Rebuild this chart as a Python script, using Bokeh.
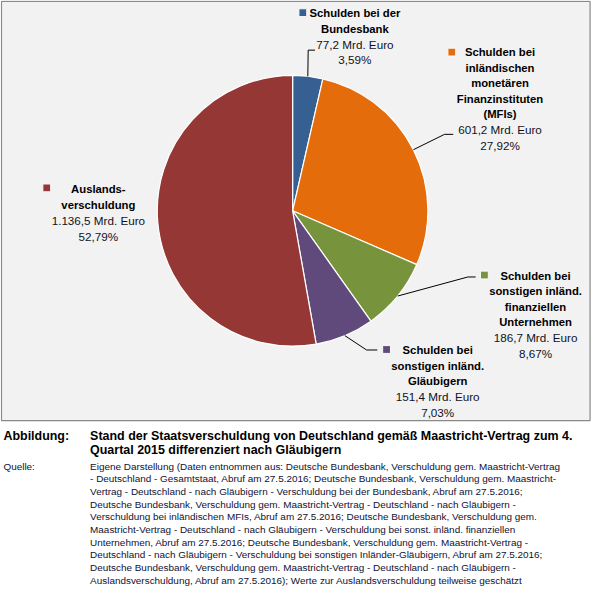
import math
from bokeh.plotting import figure
from bokeh.models import ColumnDataSource, Range1d
from bokeh.core.properties import value
from bokeh.embed import file_html
from bokeh.resources import INLINE

# ---------------- data ----------------
categories = [
    "Schulden bei der Bundesbank",
    "Schulden bei inländischen monetären Finanzinstituten (MFIs)",
    "Schulden bei sonstigen inländ. finanziellen Unternehmen",
    "Schulden bei sonstigen inländ. Gläubigern",
    "Auslandsverschuldung",
]
name_lines = [
    ["Schulden bei der", "Bundesbank"],
    ["Schulden bei", "inländischen", "monetären", "Finanzinstituten", "(MFIs)"],
    ["Schulden bei", "sonstigen inländ.", "finanziellen", "Unternehmen"],
    ["Schulden bei", "sonstigen inländ.", "Gläubigern"],
    ["Auslands-", "verschuldung"],
]
values_bn = [77.2, 601.2, 186.7, 151.4, 1136.5]
value_labels = ["77,2 Mrd. Euro", "601,2 Mrd. Euro", "186,7 Mrd. Euro",
                "151,4 Mrd. Euro", "1.136,5 Mrd. Euro"]
percent_labels = ["3,59%", "27,92%", "8,67%", "7,03%", "52,79%"]
colors = ["#376092", "#E46C0A", "#77933C", "#604A7B", "#953735"]

caption_label = "Abbildung:"
caption_lines = [
    "Stand der Staatsverschuldung von Deutschland gemäß Maastricht-Vertrag zum 4.",
    "Quartal 2015 differenziert nach Gläubigern",
]
source_label = "Quelle:"
source_lines = [
    "Eigene Darstellung (Daten entnommen aus: Deutsche Bundesbank, Verschuldung gem. Maastricht-Vertrag",
    "- Deutschland - Gesamtstaat, Abruf am 27.5.2016;  Deutsche Bundesbank, Verschuldung gem. Maastricht-",
    "Vertrag - Deutschland - nach Gläubigern - Verschuldung bei der Bundesbank, Abruf am 27.5.2016;",
    "Deutsche Bundesbank, Verschuldung gem. Maastricht-Vertrag - Deutschland - nach Gläubigern -",
    "Verschuldung bei inländischen MFIs, Abruf am 27.5.2016;  Deutsche Bundesbank, Verschuldung gem.",
    "Maastricht-Vertrag - Deutschland - nach Gläubigern - Verschuldung bei sonst. inländ. finanziellen",
    "Unternehmen, Abruf am 27.5.2016;  Deutsche Bundesbank, Verschuldung gem. Maastricht-Vertrag -",
    "Deutschland - nach Gläubigern - Verschuldung bei sonstigen Inländer-Gläubigern, Abruf am 27.5.2016;",
    "Deutsche Bundesbank, Verschuldung gem. Maastricht-Vertrag - Deutschland - nach Gläubigern -",
    "Auslandsverschuldung, Abruf am 27.5.2016);  Werte zur Auslandsverschuldung teilweise geschätzt",
]

# ---------------- layout (reference pixel space, y downwards) ----------------
W_REF, H_REF = 608, 604
W, H = 592, 588
S = W / W_REF


def Y(y):
    return H_REF - y


def fs(px):
    return f"{px * S:.2f}px"


FONT = "Liberation Sans"
CX, CY, R = 300, 216, 139

# label block: center x, first line y, marker x, marker y, leader elbow points
label_cx = [364, 513, 549.5, 449, 100.5]
label_y0 = [13, 53, 282.5, 359, 194]
marker_xy = [(310.5, 12.5), (463.5, 53), (497, 282), (396.5, 358.5), (47.5, 192.5)]
leader_pts = [
    [(316, 51), (323, 51)],
    [(456, 137.5), (465, 137.5)],
    [(480, 284), (488, 284)],
    [(376, 359), (387, 359)],
    None,
]
LINE_H = 16

p = figure(width=W, height=H, output_backend="svg", toolbar_location=None,
           x_range=Range1d(0, W_REF), y_range=Range1d(0, H_REF),
           min_border=0, outline_line_color=None, background_fill_color="white",
           border_fill_color="white")
p.axis.visible = False
p.grid.visible = False

# chart box
p.quad(left=[1], right=[605.5], top=[Y(1)], bottom=[Y(431.5)],
       fill_color="#F2F2F2", line_color="#898989", line_width=1.2)

# pie
total = sum(values_bn)
starts, ends, mids = [], [], []
cum = 0.0
for v in values_bn:
    a0 = math.pi / 2 - 2 * math.pi * cum / total
    cum += v
    a1 = math.pi / 2 - 2 * math.pi * cum / total
    starts.append(a0)
    ends.append(a1)
    mids.append((a0 + a1) / 2)

src = ColumnDataSource(dict(x=[CX] * len(values_bn), y=[Y(CY)] * len(values_bn),
                            start=starts, end=ends, color=colors, cat=categories))
p.wedge(x="x", y="y", radius=R, start_angle="start", end_angle="end",
        direction="clock", fill_color="color", line_color="white",
        line_width=1.2, source=src)

# leader lines
for i, pts in enumerate(leader_pts):
    if pts is None:
        continue
    ex = CX + R * math.cos(mids[i])
    ey = Y(CY) + R * math.sin(mids[i])
    xs = [ex] + [q[0] for q in pts]
    ys = [ey] + [Y(q[1]) for q in pts]
    p.line(xs, ys, line_color="black", line_width=1)

# labels
for i in range(len(categories)):
    cx = label_cx[i]
    y = label_y0[i]
    for ln in name_lines[i]:
        p.text([cx], [Y(y)], text=[ln], text_align="center", text_baseline="middle",
               text_font=value(FONT), text_font_style="bold",
               text_font_size=fs(11.6), text_color="black")
        y += LINE_H
    for ln in (value_labels[i], percent_labels[i]):
        p.text([cx], [Y(y)], text=[ln], text_align="center", text_baseline="middle",
               text_font=value(FONT), text_font_size=fs(12), text_color="#111122")
        y += LINE_H
    mx, my = marker_xy[i]
    p.scatter([mx], [Y(my)], marker="square", size=8 * S, fill_color=colors[i],
              line_color="#f8f8f8", line_width=1)

# caption
p.text([3], [Y(447)], text=[caption_label], text_align="left", text_baseline="middle",
       text_font=value(FONT), text_font_style="bold", text_font_size=fs(12.8),
       text_color="black")
for j, ln in enumerate(caption_lines):
    p.text([92], [Y(447 + 15 * j)], text=[ln], text_align="left", text_baseline="middle",
           text_font=value(FONT), text_font_style="bold", text_font_size=fs(12.8),
           text_color="black")

p.text([3], [Y(478.5)], text=[source_label], text_align="left", text_baseline="middle",
       text_font=value(FONT), text_font_size=fs(10.2), text_color="#111133")
for j, ln in enumerate(source_lines):
    p.text([92], [Y(478.5 + 13.0 * j)], text=[ln], text_align="left", text_baseline="middle",
           text_font=value(FONT), text_font_size=fs(10.2), text_color="#111133")

open("out.html", "w").write(file_html(p, INLINE))
